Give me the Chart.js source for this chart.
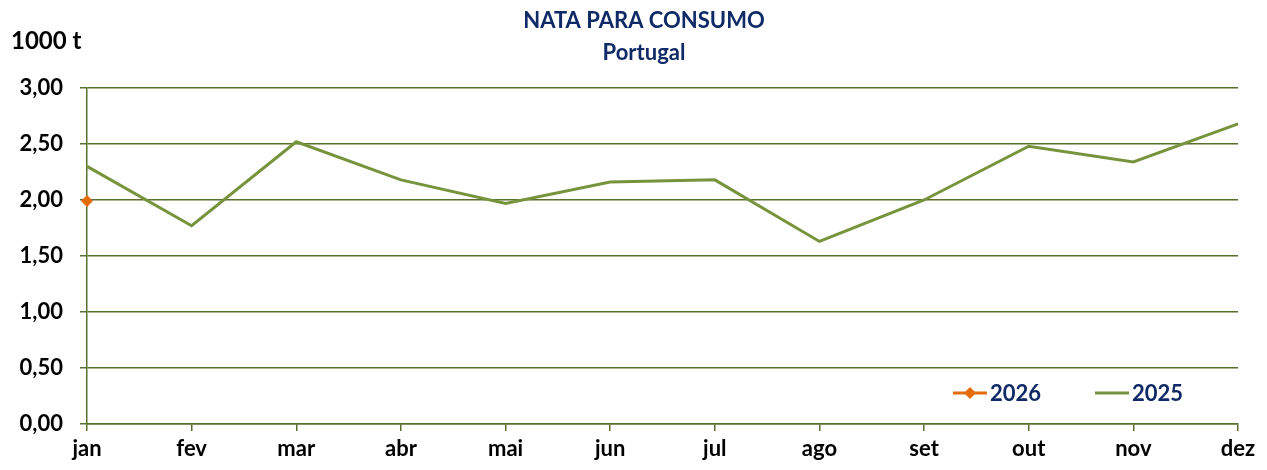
<!DOCTYPE html>
<html>
<head>
<meta charset="utf-8">
<script src="https://cdn.jsdelivr.net/npm/chart.js@4/dist/chart.umd.min.js"></script>
<style>
  html, body { margin: 0; padding: 0; background: #fff; }
  #wrap { width: 1267px; height: 470px; position: relative; }
</style>
</head>
<body>
<div id="wrap"><canvas id="grafico" width="1267" height="470"></canvas></div>
<script>
// dados
const meses = ['jan', 'fev', 'mar', 'abr', 'mai', 'jun', 'jul', 'ago', 'set', 'out', 'nov', 'dez'];
const valores2026 = [1.99];
const valores2025 = [2.30, 1.77, 2.52, 2.18, 1.97, 2.16, 2.18, 1.63, 2.00, 2.48, 2.34, 2.68];
const yTicks = [0, 0.5, 1, 1.5, 2, 2.5, 3];

const corEixo = '#5b6f2e';
const verde = '#77933c';
const laranja = '#e46c0a';
const azul = '#0f2a66';
const fonte = 'Lato, "Open Sans", sans-serif';

// titulo, unidade e legenda desenhados a mao
const extras = {
  id: 'extras',
  afterDraw(chart) {
    const {ctx} = chart;
    ctx.save();
    ctx.textBaseline = 'middle';
    ctx.fillStyle = azul;
    ctx.font = 'bold 22px ' + fonte;
    ctx.textAlign = 'center';
    ctx.fillText('NATA PARA CONSUMO', 644, 21);
    ctx.fillText('Portugal', 644, 53);

    ctx.fillStyle = '#000';
    ctx.font = 'bold 24px ' + fonte;
    ctx.textAlign = 'left';
    ctx.fillText('1000 t', 11, 41);

    // legenda
    const ly = 393;
    ctx.lineWidth = 3;
    ctx.strokeStyle = laranja;
    ctx.beginPath(); ctx.moveTo(953, ly); ctx.lineTo(987, ly); ctx.stroke();
    ctx.fillStyle = laranja;
    ctx.beginPath();
    ctx.moveTo(970, ly - 6); ctx.lineTo(976, ly); ctx.lineTo(970, ly + 6); ctx.lineTo(964, ly);
    ctx.closePath(); ctx.fill();
    ctx.strokeStyle = verde;
    ctx.beginPath(); ctx.moveTo(1095, ly); ctx.lineTo(1129, ly); ctx.stroke();

    ctx.fillStyle = azul;
    ctx.font = 'bold 22px ' + fonte;
    ctx.fillText('2026', 990, ly + 1);
    ctx.fillText('2025', 1132, ly + 1);
    ctx.restore();
  }
};

new Chart(document.getElementById('grafico'), {
  type: 'line',
  data: {
    labels: meses,
    datasets: [{
      label: '2026',
      data: valores2026,
      borderColor: laranja,
      backgroundColor: laranja,
      borderWidth: 3,
      pointStyle: 'rectRot',
      pointRadius: 6,
      pointBorderWidth: 0,
      tension: 0
    }, {
      label: '2025',
      data: valores2025,
      borderColor: verde,
      backgroundColor: verde,
      borderWidth: 3,
      pointRadius: 0,
      tension: 0
    }]
  },
  options: {
    responsive: false,
    animation: false,
    devicePixelRatio: 1,
    layout: { padding: { left: 0, right: 29, top: 88, bottom: 0 } },
    plugins: {
      legend: { display: false },
      title: { display: false },
      tooltip: { enabled: false }
    },
    scales: {
      x: {
        offset: false,
        afterFit(axis) { axis.height = 46; },
        grid: { drawOnChartArea: false, drawTicks: true, tickLength: 7, color: corEixo, lineWidth: 1.5 },
        border: { color: corEixo, width: 1.5 },
        ticks: { color: '#000', padding: 5, font: { family: fonte, size: 22, weight: 'bold' }, maxRotation: 0, autoSkip: false }
      },
      y: {
        min: 0,
        max: 3,
        afterFit(axis) { axis.width = 87; },
        afterBuildTicks(axis) { axis.ticks = yTicks.map(v => ({value: v})); },
        grid: { color: corEixo, lineWidth: 1.5, tickLength: 7 },
        border: { color: corEixo, width: 1.5 },
        ticks: {
          color: '#000', padding: 17,
          font: { family: fonte, size: 22, weight: 'bold' },
          callback: v => v.toFixed(2).replace('.', ',')
        }
      }
    }
  },
  plugins: [extras]
});
</script>
</body>
</html>
